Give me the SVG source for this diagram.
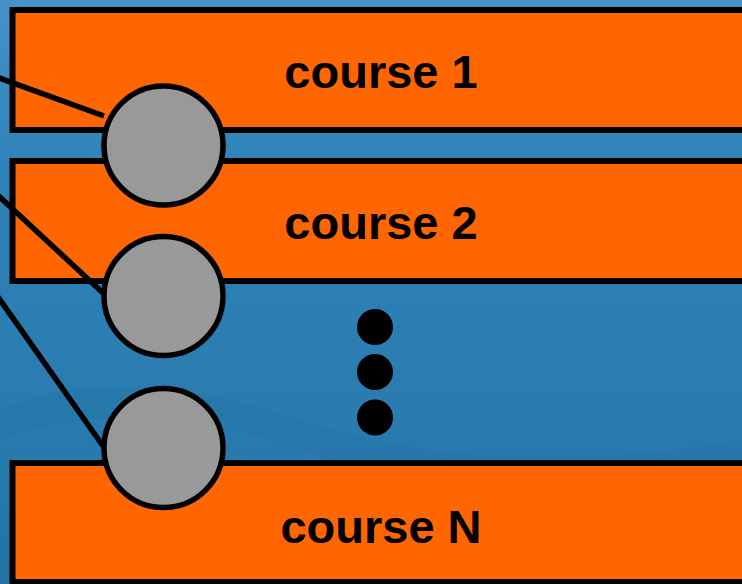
<svg xmlns="http://www.w3.org/2000/svg" width="742" height="584" viewBox="0 0 742 584">
  <defs>
    <linearGradient id="sea" x1="0" y1="0" x2="0" y2="1">
      <stop offset="0" stop-color="#4592c8"/>
      <stop offset="0.3" stop-color="#2e82b8"/>
      <stop offset="0.7" stop-color="#2a7cb0"/>
      <stop offset="1" stop-color="#2272a4"/>
    </linearGradient>
    <style>
      .course { fill: #ff6600; stroke: #000; stroke-width: 6; }
      .label { font-family: "Liberation Sans", Arial, sans-serif; font-weight: bold; font-size: 47px; fill: #000; text-anchor: middle; }
      .node { fill: #999999; stroke: #000; stroke-width: 5.5; }
      .link { stroke: #000; stroke-width: 5.5; fill: none; }
      .dot { fill: #000; }
    </style>
  </defs>
  <rect x="0" y="0" width="742" height="584" fill="url(#sea)"/>
  <path d="M0,410 C90,370 200,385 300,420 C420,460 560,470 742,440 L742,470 C560,500 420,490 300,450 C200,415 90,405 0,440 Z" fill="#206d9e" opacity="0.2"/>

  <g id="course1">
    <rect class="course" x="12.5" y="10" width="760" height="120"/>
    <text class="label" x="381" y="88">course 1</text>
  </g>
  <g id="course2">
    <rect class="course" x="12.5" y="161" width="760" height="120"/>
    <text class="label" x="381" y="239">course 2</text>
  </g>
  <g id="courseN">
    <rect class="course" x="12.5" y="463" width="760" height="119"/>
    <text class="label" x="381" y="543">course N</text>
  </g>

  <g id="connectors">
    <line class="link" x1="-210" y1="2" x2="104" y2="116"/>
    <line class="link" x1="-210" y1="2" x2="103" y2="293"/>
    <line class="link" x1="-210" y1="2" x2="103" y2="446"/>
  </g>

  <g id="node1"><circle class="node" cx="163.5" cy="145.5" r="59.5"/></g>
  <g id="node2"><circle class="node" cx="163.5" cy="296" r="59.5"/></g>
  <g id="node3"><circle class="node" cx="163.5" cy="448" r="59.5"/></g>

  <g id="ellipsis">
    <circle class="dot" cx="375" cy="327" r="18"/>
    <circle class="dot" cx="375" cy="372" r="18"/>
    <circle class="dot" cx="375" cy="417.5" r="18"/>
  </g>
</svg>
